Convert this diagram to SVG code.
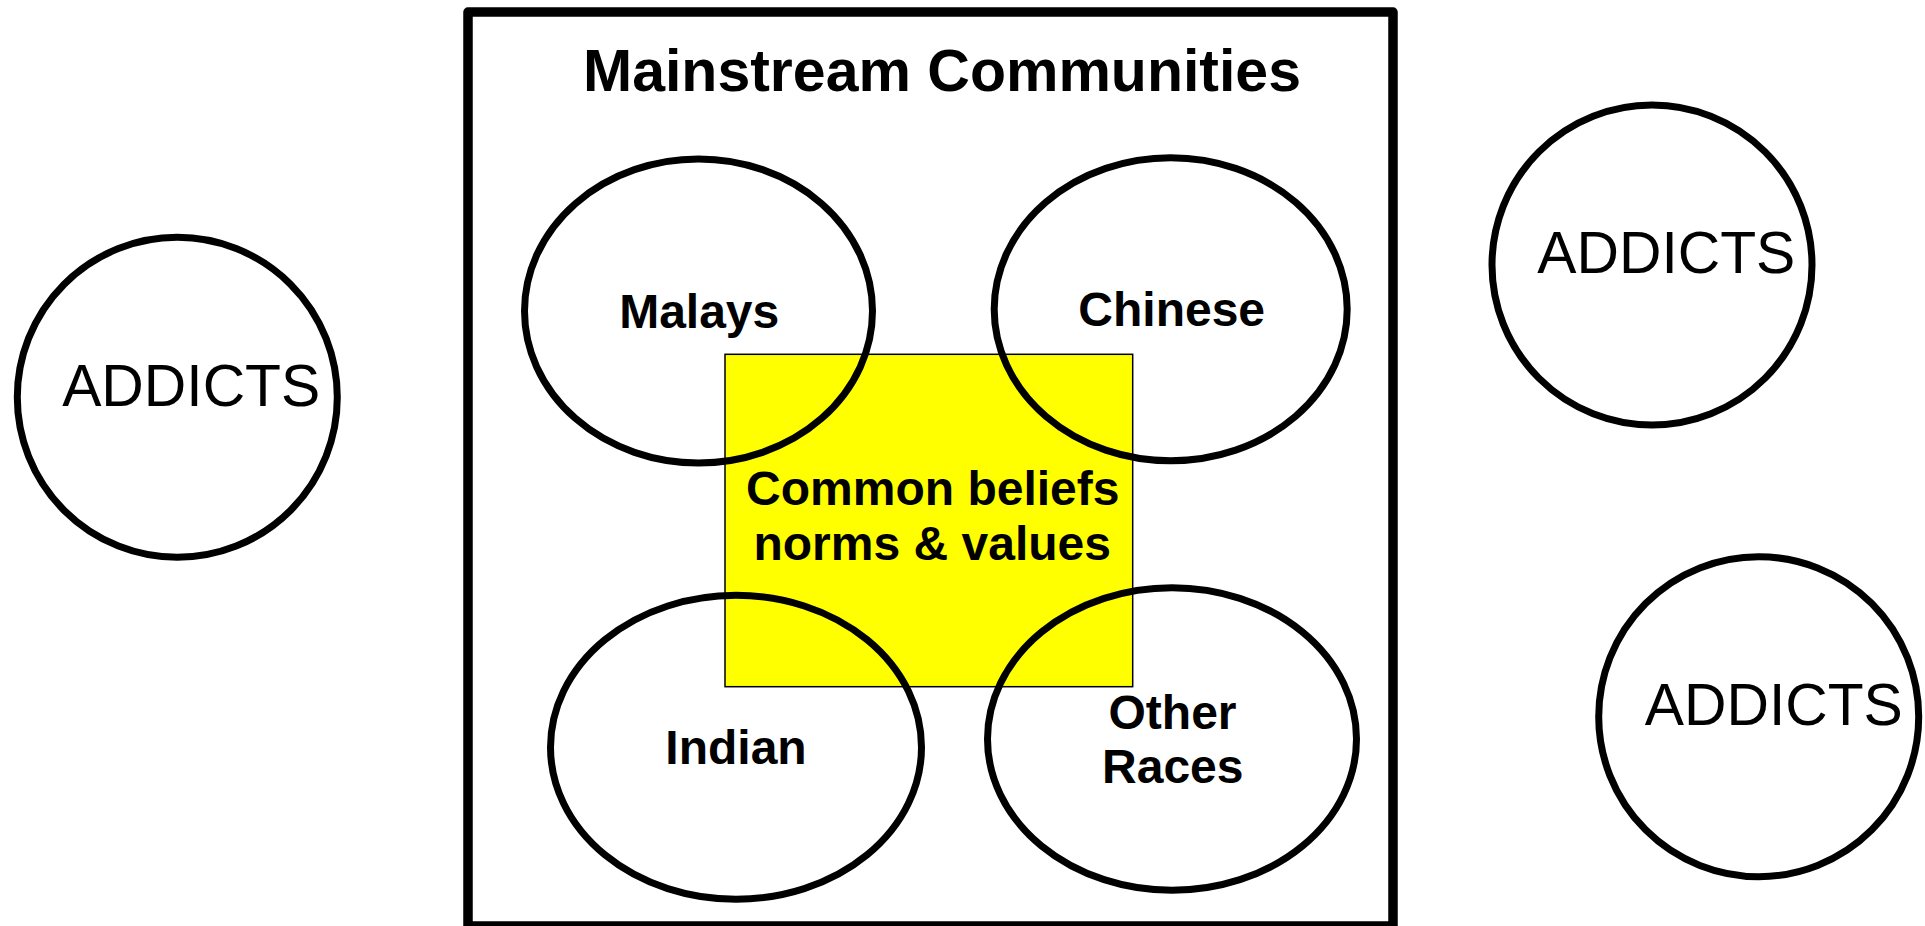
<svg xmlns="http://www.w3.org/2000/svg" width="1925" height="926" viewBox="0 0 1925 926">
<style>
.bold{font-family:"Liberation Sans",Arial,sans-serif;font-weight:bold;fill:#000;text-anchor:middle}
.reg{font-family:"Liberation Sans",Arial,sans-serif;font-weight:normal;fill:#000;text-anchor:middle;font-size:58.8px}
.ring{fill:none;stroke:#000;stroke-width:7}
</style>
<rect width="1925" height="926" fill="#fff"/>
<g id="mainstream">
<rect x="468" y="12" width="925" height="914" fill="#fff" stroke="#000" stroke-width="9.5" stroke-linejoin="round"/>
<text class="bold" x="942" y="90.7" font-size="59">Mainstream Communities</text>
</g>
<g id="common">
<rect x="725" y="354.3" width="407.7" height="332.4" fill="#ffff00" stroke="#000" stroke-width="1.5"/>
<text class="bold" x="932.8" y="505" font-size="48">Common beliefs</text>
<text class="bold" x="932.2" y="560" font-size="48">norms &amp; values</text>
</g>
<g id="malays">
<ellipse class="ring" cx="698.5" cy="311" rx="174" ry="152"/>
<text class="bold" x="699.2" y="328.3" font-size="48">Malays</text>
</g>
<g id="chinese">
<ellipse class="ring" cx="1170.7" cy="309.3" rx="176.5" ry="151.5"/>
<text class="bold" x="1171.7" y="326" font-size="48">Chinese</text>
</g>
<g id="indian">
<ellipse class="ring" cx="736" cy="747.3" rx="185.5" ry="152"/>
<text class="bold" x="736" y="764.3" font-size="48">Indian</text>
</g>
<g id="other">
<ellipse class="ring" cx="1172" cy="739" rx="184.5" ry="151.3"/>
<text class="bold" x="1172.5" y="729.3" font-size="48">Other</text>
<text class="bold" x="1172.8" y="783.3" font-size="48">Races</text>
</g>
<g id="addicts-left">
<circle class="ring" cx="177.3" cy="397.3" r="160"/>
<text class="reg" x="191.2" y="405.7">ADDICTS</text>
</g>
<g id="addicts-top-right">
<circle class="ring" cx="1652" cy="265" r="160"/>
<text class="reg" x="1666.3" y="272.7">ADDICTS</text>
</g>
<g id="addicts-bottom-right">
<circle class="ring" cx="1758.7" cy="716.7" r="160"/>
<text class="reg" x="1773.8" y="725">ADDICTS</text>
</g>
<g id="connectors"></g>
</svg>
